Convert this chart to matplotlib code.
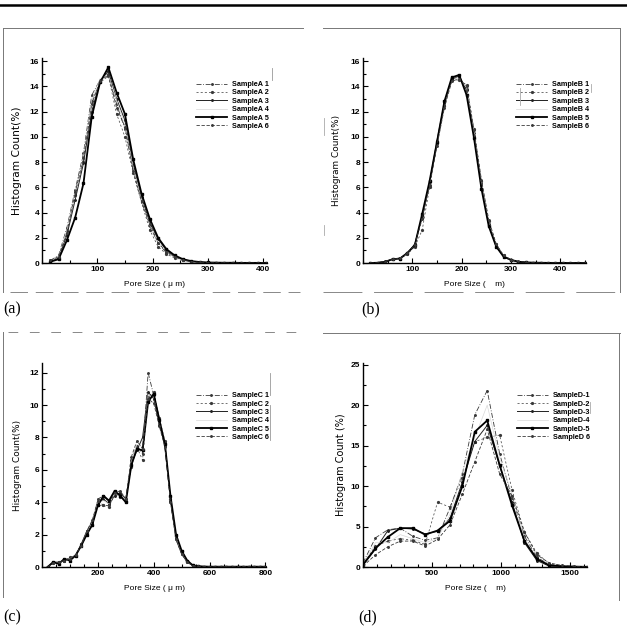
import numpy as np
import matplotlib.pyplot as plt
from matplotlib.lines import Line2D
from matplotlib.ticker import MultipleLocator

plt.rcParams['font.family'] = ['Liberation Sans', 'DejaVu Sans']
plt.rcParams['font.weight'] = 'bold'

# (a) SampleA
xa = [15, 30, 45, 60, 75, 90, 105, 120, 135, 150, 165, 180, 195, 210, 225, 240,
      255, 270, 285, 300, 315, 330, 345, 360, 375, 390, 405]
a1 = [0.2, 0.6, 2.8, 5.8, 8.7, 13.3, 14.5, 15.0, 12.6, 10.6, 7.5, 4.9, 2.9, 1.6, 0.8, 0.5,
      0.25, 0.12, 0.06, 0.03, 0.02, 0.01, 0.01, 0.0, 0.0, 0.0, 0.0]
a2 = [0.1, 0.5, 2.5, 5.4, 8.0, 12.8, 14.3, 14.8, 11.8, 10.0, 7.1, 4.8, 2.6, 1.3, 0.7, 0.4,
      0.2, 0.1, 0.05, 0.03, 0.02, 0.01, 0.01, 0.0, 0.0, 0.0, 0.0]
a3 = [0.1, 0.4, 2.2, 5.0, 7.9, 12.0, 14.4, 15.2, 13.0, 11.3, 7.8, 5.2, 3.2, 1.9, 1.0, 0.5,
      0.28, 0.14, 0.07, 0.04, 0.02, 0.02, 0.01, 0.01, 0.0, 0.0, 0.0]
a4 = [0.15, 0.5, 2.6, 5.6, 8.4, 12.9, 14.6, 14.9, 12.9, 10.9, 7.6, 5.0, 3.0, 1.7, 0.9, 0.45,
      0.22, 0.11, 0.05, 0.03, 0.02, 0.01, 0.0, 0.0, 0.0, 0.0, 0.0]
a5 = [0.1, 0.3, 1.8, 3.6, 6.3, 11.6, 14.3, 15.5, 13.5, 11.8, 8.2, 5.5, 3.5, 2.0, 1.1, 0.6,
      0.3, 0.15, 0.08, 0.04, 0.03, 0.02, 0.02, 0.01, 0.01, 0.01, 0.0]
a6 = [0.2, 0.5, 2.4, 5.6, 8.3, 12.6, 14.4, 14.9, 12.3, 10.8, 7.3, 4.9, 3.1, 1.6, 0.9, 0.5,
      0.22, 0.1, 0.05, 0.03, 0.02, 0.01, 0.01, 0.0, 0.0, 0.0, 0.0]

# (b) SampleB
xb = [15, 30, 45, 60, 75, 90, 105, 120, 135, 150, 165, 180, 195, 210, 225, 240, 255,
      270, 285, 300, 315, 330, 345, 360, 375, 390, 405, 420, 435, 450]
b1 = [0.0, 0.03, 0.12, 0.28, 0.4, 0.75, 1.5, 3.6, 6.2, 9.4, 12.5, 14.6, 14.7, 13.8, 10.3,
      6.3, 3.1, 1.4, 0.55, 0.22, 0.1, 0.05, 0.02, 0.01, 0.01, 0.0, 0.0, 0.0, 0.0, 0.0]
b2 = [0.0, 0.02, 0.1, 0.3, 0.35, 0.7, 1.3, 2.6, 6.0, 9.5, 12.4, 14.5, 14.5, 14.1, 10.6,
      6.5, 3.3, 1.5, 0.6, 0.25, 0.1, 0.05, 0.02, 0.01, 0.0, 0.0, 0.0, 0.0, 0.0, 0.0]
b3 = [0.0, 0.02, 0.1, 0.32, 0.38, 0.8, 1.5, 3.7, 6.4, 9.7, 12.7, 14.6, 14.8, 13.7, 10.1,
      6.2, 3.0, 1.3, 0.5, 0.22, 0.1, 0.05, 0.02, 0.01, 0.0, 0.0, 0.0, 0.0, 0.0, 0.0]
b4 = [0.0, 0.02, 0.1, 0.3, 0.36, 0.78, 1.4, 3.8, 6.3, 9.5, 12.6, 14.7, 14.6, 13.9, 10.4,
      6.4, 3.2, 1.4, 0.5, 0.2, 0.1, 0.04, 0.02, 0.01, 0.0, 0.0, 0.0, 0.0, 0.0, 0.0]
b5 = [0.0, 0.02, 0.1, 0.3, 0.35, 0.8, 1.4, 3.9, 6.5, 9.6, 12.8, 14.7, 14.9, 13.3, 9.9,
      5.9, 2.9, 1.3, 0.5, 0.25, 0.1, 0.05, 0.03, 0.02, 0.01, 0.01, 0.01, 0.0, 0.0, 0.0]
b6 = [0.0, 0.03, 0.11, 0.29, 0.37, 0.76, 1.45, 3.5, 6.1, 9.3, 12.3, 14.4, 14.6, 14.0, 10.5,
      6.6, 3.4, 1.5, 0.6, 0.26, 0.12, 0.05, 0.02, 0.01, 0.0, 0.0, 0.0, 0.0, 0.0, 0.0]

# (c) SampleC
xc = [20, 40, 60, 80, 100, 120, 140, 160, 180, 200, 220, 240, 260, 280, 300, 320, 340,
      360, 380, 400, 420, 440, 460, 480, 500, 520, 540, 560, 580, 600, 620, 640, 660,
      680, 700, 720, 740, 760, 780, 800]
c1 = [0.0, 0.3, 0.25, 0.45, 0.5, 0.7, 1.3, 2.0, 2.7, 4.2, 4.4, 4.0, 4.6, 4.5, 4.0, 6.6, 7.5,
      7.0, 12.0, 10.6, 9.0, 7.7, 4.0, 1.8, 0.9, 0.35, 0.1, 0.05, 0.03, 0.02, 0.02, 0.02, 0.02,
      0.02, 0.02, 0.02, 0.03, 0.02, 0.02, 0.02]
c2 = [0.0, 0.25, 0.3, 0.35, 0.6, 0.75, 1.4, 2.1, 2.6, 3.8, 3.8, 3.7, 4.5, 4.3, 4.1, 6.2, 7.4,
      6.6, 10.5, 10.8, 9.2, 7.8, 4.2, 1.9, 1.0, 0.4, 0.1, 0.05, 0.03, 0.02, 0.02, 0.02, 0.02,
      0.02, 0.02, 0.02, 0.02, 0.02, 0.02, 0.02]
c3 = [0.0, 0.3, 0.3, 0.4, 0.55, 0.7, 1.4, 2.2, 2.8, 3.9, 4.2, 3.9, 4.4, 4.6, 4.2, 6.4, 7.2,
      8.0, 10.8, 10.4, 8.8, 7.5, 4.1, 1.7, 0.8, 0.3, 0.08, 0.04, 0.02, 0.02, 0.02, 0.02, 0.02,
      0.02, 0.02, 0.02, 0.02, 0.02, 0.02, 0.02]
c4 = [0.0, 0.28, 0.27, 0.42, 0.52, 0.72, 1.35, 2.1, 2.75, 4.0, 4.1, 3.9, 4.5, 4.4, 4.1, 6.5,
      7.6, 7.4, 10.6, 10.5, 9.1, 7.7, 4.3, 1.8, 0.9, 0.35, 0.1, 0.05, 0.03, 0.02, 0.02, 0.02,
      0.02, 0.02, 0.02, 0.02, 0.02, 0.02, 0.02, 0.02]
c5 = [0.0, 0.3, 0.2, 0.5, 0.4, 0.7, 1.3, 2.0, 2.6, 3.8, 4.4, 4.1, 4.7, 4.4, 4.0, 6.3, 7.3,
      7.2, 10.2, 10.7, 9.1, 7.6, 4.4, 2.0, 1.0, 0.4, 0.1, 0.05, 0.03, 0.02, 0.02, 0.02, 0.02,
      0.02, 0.02, 0.02, 0.02, 0.02, 0.02, 0.02]
c6 = [0.0, 0.25, 0.3, 0.4, 0.5, 0.75, 1.3, 2.2, 2.9, 4.1, 3.8, 3.8, 4.6, 4.7, 4.2, 6.8, 7.8,
      7.3, 10.4, 10.1, 8.7, 7.4, 4.0, 1.7, 0.8, 0.3, 0.08, 0.04, 0.02, 0.02, 0.02, 0.02, 0.02,
      0.02, 0.02, 0.02, 0.02, 0.02, 0.02, 0.02]

# (d) SampleD
xd = [0, 90, 180, 270, 360, 450, 540, 630, 720, 810, 900, 990, 1080, 1170, 1260, 1350,
      1440, 1530, 1620]
d1 = [0.5, 3.6, 4.6, 4.8, 3.8, 3.3, 3.6, 7.3, 11.5, 18.8, 21.8, 14.0, 8.5, 3.8, 1.2, 0.3,
      0.1, 0.05, 0.0]
d2 = [0.3, 2.6, 3.2, 3.5, 3.3, 2.8, 8.0, 7.4, 11.0, 15.5, 16.0, 16.3, 9.5, 4.3, 1.7, 0.4,
      0.1, 0.0, 0.0]
d3 = [0.2, 2.2, 4.5, 4.8, 4.7, 4.1, 4.4, 6.0, 10.5, 15.5, 17.5, 12.5, 8.0, 3.0, 0.8, 0.1,
      0.05, 0.0, 0.0]
d4 = [0.3, 3.0, 3.0, 4.0, 3.5, 3.0, 3.5, 6.5, 11.8, 16.0, 20.0, 13.5, 9.0, 3.5, 1.0, 0.2,
      0.05, 0.0, 0.0]
d5 = [0.3, 2.3, 3.7, 4.8, 4.8, 4.0, 4.5, 5.7, 10.0, 16.7, 18.1, 12.6, 7.6, 3.2, 1.0, 0.2,
      0.1, 0.05, 0.02]
d6 = [0.1, 1.5, 2.5, 3.2, 3.2, 2.6, 3.4, 5.2, 9.0, 13.0, 17.0, 11.5, 8.8, 4.3, 1.5, 0.5,
      0.2, 0.1, 0.0]

W, H = 627, 638
fig = plt.figure(figsize=(W / 100, H / 100), dpi=100)


def px_axes(x0, y0, x1, y1):
    return fig.add_axes([x0 / W, 1 - y1 / H, (x1 - x0) / W, (y1 - y0) / H])


def fline(xs, ys, **kw):
    fig.add_artist(Line2D([x / W for x in xs], [1 - y / H for y in ys],
                          transform=fig.transFigure, **kw))


styles = [
    dict(color='#3a3a3a', lw=0.6, ls=(0, (6, 2, 1, 2)), marker='.', ms=2.2),
    dict(color='#3a3a3a', lw=0.5, ls=(0, (3, 3)), marker='.', ms=2.6),
    dict(color='#222222', lw=0.7, ls='-', marker='.', ms=2.2),
    dict(color='#d8d8d8', lw=0.5, ls='-', marker=None),
    dict(color='black', lw=1.3, ls='-', marker='s', ms=2.0),
    dict(color='#3a3a3a', lw=0.6, ls=(0, (4, 2)), marker='.', ms=2.2),
]


def panel(ax, x, series, names, xlim, ylim, xmaj, xmin, ymaj, xlabel, ylabel,
          leg_xy, ylab_x, ylab_size):
    for s, n, st in zip(series, names, styles):
        ax.plot(x, s, label=n, **st)
    ax.set_xlim(*xlim)
    ax.set_ylim(*ylim)
    ax.xaxis.set_major_locator(MultipleLocator(xmaj))
    ax.xaxis.set_minor_locator(MultipleLocator(xmin))
    ax.yaxis.set_major_locator(MultipleLocator(ymaj))
    ax.yaxis.set_minor_locator(MultipleLocator(ymaj / 2))
    ax.spines['top'].set_visible(False)
    ax.spines['right'].set_visible(False)
    ax.spines['left'].set_linewidth(1.0)
    ax.spines['bottom'].set_linewidth(1.0)
    ax.tick_params(which='both', direction='in', labelsize=6, width=0.8, pad=2)
    ax.tick_params(which='major', length=3.5)
    ax.tick_params(which='minor', length=2)
    ax.set_xlabel(xlabel, fontsize=6)
    ax.set_ylabel(ylabel, fontsize=ylab_size, family=['DejaVu Sans'])
    ax.xaxis.set_label_coords(0.5, -0.088)
    ax.yaxis.set_label_coords(ylab_x, 0.5)
    ax.set_xticks([t for t in ax.get_xticks() if xlim[0] < t <= xlim[1]])
    ax.legend(loc='upper left', bbox_to_anchor=leg_xy, frameon=False, fontsize=5.2,
              handlelength=4.3, handletextpad=0.7, labelspacing=0.18, borderpad=0)


axa = px_axes(42, 58, 267, 263)
panel(axa, xa, [a1, a2, a3, a4, a5, a6],
      ['SampleA 1', 'SampleA 2', 'SampleA 3', 'SampleA 4', 'SampleA 5', 'SampleA 6'],
      (0, 407), (0, 16.24), 100, 50, 2, 'Pore Size ( μ m)', 'Histogram Count(%)',
      (0.67, 0.905), -0.09, 7.6)

axb = px_axes(363, 58, 586, 263)
panel(axb, xb, [b1, b2, b3, b4, b5, b6],
      ['SampleB 1', 'SampleB 2', 'SampleB 3', 'SampleB 4', 'SampleB 5', 'SampleB 6'],
      (0, 452), (0, 16.24), 100, 50, 2, 'Pore Size (    m)', 'Histogram Count(%)',
      (0.67, 0.905), -0.10, 6.4)

axc = px_axes(42, 363, 266, 567)
panel(axc, xc, [c1, c2, c3, c4, c5, c6],
      ['SampleC 1', 'SampleC 2', 'SampleC 3', 'SampleC 4', 'SampleC 5', 'SampleC 6'],
      (0, 802), (0, 12.6), 200, 50, 2, 'Pore Size ( μ m)', 'Histogram Count(%)',
      (0.67, 0.875), -0.09, 6.4)

axd = px_axes(363, 363, 587, 567)
panel(axd, xd, [d1, d2, d3, d4, d5, d6],
      ['SampleD-1', 'SampleD-2', 'SampleD-3', 'SampleD-4', 'SampleD-5', 'SampleD 6'],
      (0, 1623), (0, 25.2), 500, 100, 5, 'Pore Size (    m)', 'Histogram Count (%)',
      (0.67, 0.875), -0.075, 7.0)

# page rules and scanned panel frames
fline([0, 627], [5, 5], color='black', lw=1.8)
fline([3, 303], [28, 28], color='#777777', lw=0.7)
fline([3, 3], [28, 292], color='#777777', lw=0.7)
fline([10, 300], [292, 292], color='#888888', lw=0.7, ls=(0, (18, 8)))
fline([323, 620], [28, 28], color='#777777', lw=0.7)
fline([620, 620], [28, 292], color='#777777', lw=0.7)
fline([323, 620], [292, 292], color='#888888', lw=0.7, ls=(0, (40, 12)))
fline([8, 303], [332, 332], color='#888888', lw=0.7, ls=(0, (10, 12)))
fline([3, 3], [332, 597], color='#777777', lw=0.7)
fline([323, 620], [333, 333], color='#777777', lw=0.7)
fline([619, 619], [333, 600], color='#777777', lw=0.7)
# small scan marks
fline([272, 272], [68, 80], color='#999999', lw=0.6)
fline([324, 324], [118, 135], color='#aaaaaa', lw=0.6)
fline([324, 324], [225, 235], color='#aaaaaa', lw=0.6)
fline([520, 520], [88, 105], color='#aaaaaa', lw=0.6)
fline([591, 591], [84, 92], color='#aaaaaa', lw=0.6)
fline([270, 270], [373, 395], color='#999999', lw=0.6)
fline([270, 270], [405, 440], color='#999999', lw=0.6)
fline([590, 590], [402, 413], color='#aaaaaa', lw=0.6)

for lab, x, y in [('(a)', 3, 309), ('(b)', 361, 309), ('(c)', 3, 617), ('(d)', 358, 617)]:
    fig.text(x / W, 1 - y / H, lab, fontsize=11.5, va='center', ha='left',
             family=['Liberation Serif', 'DejaVu Serif'], weight='normal')

fig.savefig('out.png', dpi=100)
